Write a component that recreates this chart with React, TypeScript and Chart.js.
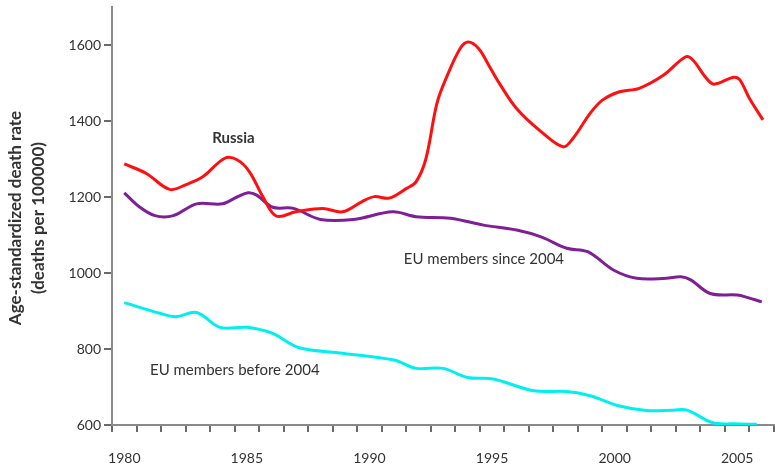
import React, { useEffect, useRef } from 'react';
import { Chart, registerables } from 'chart.js';

Chart.register(...registerables);

// ---- Data ----
const russiaYears = [1980, 1980.9, 1981.85, 1982.5, 1983.2, 1984.1, 1984.6, 1985.1, 1985.65, 1986.2, 1987, 1988.1, 1988.9, 1989.7, 1990.2, 1990.8, 1991.5, 1991.9, 1992.3, 1992.75, 1993.15, 1993.7, 1994.03, 1994.45, 1994.9, 1995.3, 1996, 1997, 1997.9, 1998.3, 1999, 1999.5, 2000.2, 2001, 2002, 2002.9, 2003.2, 2003.7, 2004.05, 2004.85, 2005.1, 2005.5, 2006.05];
const russiaValues = [1287, 1262, 1220, 1232, 1253, 1302, 1298, 1267, 1201, 1150, 1161, 1170, 1161, 1188, 1201, 1197, 1222, 1240, 1300, 1446, 1516, 1591, 1608, 1591, 1543, 1499, 1433, 1372, 1332, 1354, 1420, 1455, 1477, 1486, 1521, 1569, 1560, 1516, 1497, 1515, 1509, 1459, 1403];

const euSince2004Years = [1980, 1980.6, 1981.25, 1982, 1982.95, 1984, 1984.6, 1985.05, 1985.4, 1986.05, 1986.9, 1988, 1989.35, 1990.95, 1991.9, 1993.3, 1994.65, 1996, 1997, 1998.05, 1998.9, 1999.95, 2000.9, 2002.1, 2002.7, 2003.1, 2003.9, 2005, 2005.4, 2006];
const euSince2004Values = [1211, 1175, 1151, 1151, 1182, 1182, 1200, 1211, 1205, 1173, 1170, 1141, 1141, 1161, 1148, 1144, 1126, 1113, 1095, 1065, 1056, 1008, 986, 986, 990, 982, 946, 942, 936, 924];

const euBefore2004Years = [1980, 1981.45, 1982.1, 1982.95, 1983.9, 1985, 1986.05, 1987.1, 1988.9, 1991, 1991.9, 1993, 1994, 1995.05, 1996.7, 1998.05, 1999, 2000.2, 2001.3, 2002.4, 2002.95, 2004, 2004.85, 2005.8];
const euBefore2004Values = [922, 894, 885, 896, 857, 857, 841, 804, 789, 771, 749, 749, 725, 721, 690, 688, 677, 650, 638, 639, 639, 606, 603, 602];

const yTickValues = [600, 800, 1000, 1200, 1400, 1600];
const xLabelEvery = 5;
const yAxisTitle = ['Age-standardized death rate', '(deaths per 100000)'];
const seriesLabels = ['Russia', 'EU members since 2004', 'EU members before 2004'];

const toPoints = (xs: number[], ys: number[]) => xs.map((x, i) => ({ x, y: ys[i] }));

const FONT = 'Lato, "Open Sans", sans-serif';
const TEXT_COLOR = '#333';
const AXIS_COLOR = '#8a8a8a';
const TICK_COLOR = '#6a6a6a';

const annotationPlugin = {
  id: 'annotations',
  afterDraw(chart: any) {
    const { ctx, scales, chartArea } = chart;
    const xs = scales.x;
    const ys = scales.y;
    ctx.save();
    ctx.fillStyle = TEXT_COLOR;
    ctx.textAlign = 'center';
    ctx.textBaseline = 'middle';
    // Series labels
    ctx.font = `bold 15px ${FONT}`;
    ctx.fillText(seriesLabels[0], xs.getPixelForValue(1984.45), ys.getPixelForValue(1355));
    ctx.font = `15px ${FONT}`;
    ctx.fillText(seriesLabels[1], xs.getPixelForValue(1994.67), ys.getPixelForValue(1037));
    ctx.fillText(seriesLabels[2], xs.getPixelForValue(1984.51), ys.getPixelForValue(745));
    // Y axis title
    const cy = (chartArea.top + chartArea.bottom) / 2 + 2;
    ctx.font = `bold 17px ${FONT}`;
    ctx.translate(16, cy);
    ctx.rotate(-Math.PI / 2);
    ctx.fillText(yAxisTitle[0], 0, 0);
    ctx.fillText(yAxisTitle[1], 0, 23);
    ctx.restore();
  },
};

export default function App() {
  const canvasRef = useRef<HTMLCanvasElement | null>(null);

  useEffect(() => {
    const canvas = canvasRef.current;
    if (!canvas) return;
    const xTicks: number[] = [];
    for (let v = 1979.5; v <= 2006.5 + 1e-9; v += 0.5) xTicks.push(v);

    const chart = new Chart(canvas, {
      type: 'line',
      data: {
        datasets: [
          {
            label: seriesLabels[0],
            data: toPoints(russiaYears, russiaValues),
            borderColor: '#ff1010',
            borderWidth: 3,
            pointRadius: 0,
            tension: 0.35,
          },
          {
            label: seriesLabels[1],
            data: toPoints(euSince2004Years, euSince2004Values),
            borderColor: '#7e1f96',
            borderWidth: 3,
            pointRadius: 0,
            tension: 0.35,
          },
          {
            label: seriesLabels[2],
            data: toPoints(euBefore2004Years, euBefore2004Values),
            borderColor: '#00f0f0',
            borderWidth: 3,
            pointRadius: 0,
            tension: 0.35,
          },
        ],
      },
      options: {
        animation: false,
        responsive: false,
        maintainAspectRatio: false,
        layout: { padding: { top: 7, right: 1, left: 0, bottom: 0 } },
        plugins: {
          legend: { display: false },
          tooltip: { enabled: false },
        },
        scales: {
          x: {
            type: 'linear',
            min: 1979.5,
            max: 2006.5,
            afterBuildTicks: (scale: any) => {
              scale.ticks = xTicks.map((v) => ({ value: v }));
            },
            afterFit: (scale: any) => {
              scale.height = 44;
              scale.paddingLeft = 0;
              scale.paddingRight = 0;
            },
            ticks: {
              autoSkip: false,
              maxRotation: 0,
              minRotation: 0,
              padding: 18,
              color: TEXT_COLOR,
              font: { family: FONT, size: 14 },
              callback: (v: any) => {
                const n = Number(v);
                return Number.isInteger(n) && n % xLabelEvery === 0 ? String(n) : '';
              },
            },
            grid: {
              display: true,
              drawOnChartArea: false,
              drawTicks: true,
              tickLength: 7,
              lineWidth: 2,
              tickWidth: 2,
              color: 'rgba(0,0,0,0)',
              tickColor: (ctx: any) => {
                const v = ctx.tick ? ctx.tick.value : 0;
                return Math.abs(v - Math.floor(v) - 0.5) < 1e-6 ? TICK_COLOR : 'rgba(0,0,0,0)';
              },
            },
            border: { display: true, color: AXIS_COLOR, width: 2 },
          },
          y: {
            type: 'linear',
            min: 600,
            max: 1700,
            afterBuildTicks: (scale: any) => {
              scale.ticks = yTickValues.map((v) => ({ value: v }));
            },
            afterFit: (scale: any) => {
              scale.width = 112;
              scale.paddingTop = 0;
              scale.paddingBottom = 0;
            },
            ticks: {
              padding: 3,
              color: TEXT_COLOR,
              font: { family: FONT, size: 14 },
              callback: (v: any) => String(v),
            },
            grid: {
              display: true,
              drawOnChartArea: false,
              drawTicks: true,
              tickLength: 8,
              lineWidth: 2,
              tickWidth: 2,
              color: TICK_COLOR,
              tickColor: TICK_COLOR,
            },
            border: { display: true, color: AXIS_COLOR, width: 2 },
          },
        },
      },
      plugins: [annotationPlugin],
    } as any);

    return () => chart.destroy();
  }, []);

  return (
    <div style={{ position: 'fixed', left: 0, top: 0, width: 775, height: 469, background: '#fff' }}>
      <canvas ref={canvasRef} width={775} height={469} style={{ width: 775, height: 469, display: 'block' }} />
    </div>
  );
}
